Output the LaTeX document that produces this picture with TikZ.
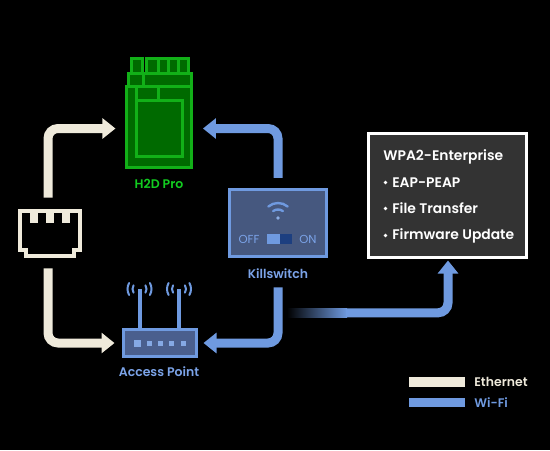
\documentclass[tikz,border=0pt]{standalone}
\usepackage{fontspec}
\setmainfont{Poppins}[BoldFont={Poppins SemiBold}]
\usetikzlibrary{arrows.meta, positioning}
\definecolor{ethcol}{HTML}{EFEADB}
\definecolor{wificol}{HTML}{6F9AE0}
\definecolor{wifitxt}{HTML}{7BA3E8}
\definecolor{modline}{HTML}{12B018}
\definecolor{modfill}{HTML}{006A00}
\definecolor{modtxt}{HTML}{12CC20}
\definecolor{panelcol}{HTML}{46587F}
\definecolor{apcol}{HTML}{4A5F8E}
\definecolor{togglecol}{HTML}{1D3F80}
\definecolor{infocol}{HTML}{333333}
\def\px{0.02cm}
\tikzset{
  ethlink/.style={draw=ethcol, line width=9*\px, rounded corners=10*\px,
    -{Triangle[width=11.3pt, length=7.4pt]}},
  wifilink/.style={draw=wificol, line width=9*\px, rounded corners=10*\px,
    -{Triangle[width=11.3pt, length=7.4pt]}},
  modpart/.style={draw=modline, fill=modfill, line width=3*\px},
  lbl/.style={font=\fontsize{7.1}{8}\selectfont\bfseries, inner sep=0pt},
  infotxt/.style={font=\fontsize{7.9}{9}\selectfont\bfseries, text=white, anchor=west, inner sep=0pt},
  wave/.style={draw=wificol, line width=2*\px, line cap=round},
}
\begin{document}
\begin{tikzpicture}[x=\px, y=-\px]
  \fill[black] (0,0) rectangle (550,450);
  \useasboundingbox (0,0) rectangle (550,450);
  % H2D module
  \draw[modpart] (131.5,58.5) rectangle (142.5,73);
  \draw[modpart] (146.5,58.5) rectangle (188,73);
  \draw[modpart] (158,58.5) -- (158,73) (168,58.5) -- (168,73) (178,58.5) -- (178,73);
  \draw[modpart] (128.5,73) rectangle (191,86);
  \draw[modpart] (143.5,73) -- (143.5,86);
  \node[modpart, minimum width=64.5*\px, minimum height=81*\px, inner sep=0pt] (h2d) at (159.2,127) {};
  \draw[modpart] (136,86) -- (136,100) (158.5,86) -- (158.5,100);
  \draw[modpart] (136,100) rectangle (182.5,156.5);
  \node[lbl, text=modtxt] (h2dlbl) at (159,183.5) {H2D Pro};
  % Killswitch
  \node[draw=wificol, fill=panelcol, line width=3.5*\px, minimum width=97*\px, minimum height=67*\px, inner sep=0pt] (kill) at (278,223) {};
  \fill[wificol!80!white] (278,218) circle (1.8*\px);
  \draw[wave, line width=2.4*\px] (278,218) ++(55:8.5*\px) arc[start angle=55, end angle=125, radius=8.5*\px];
  \draw[wave, line width=2.4*\px] (278,218) ++(50:15*\px) arc[start angle=50, end angle=130, radius=15*\px];
  \fill[togglecol] (279,234) rectangle (292,244);
  \fill[wificol] (267,234) rectangle (280,244);
  \node[font=\fontsize{6.6}{8}\selectfont, text=wifitxt, inner sep=0pt] (offlbl) at (249,239.5) {OFF};
  \node[font=\fontsize{6.6}{8}\selectfont, text=wifitxt, inner sep=0pt] (onlbl) at (308,239.5) {ON};
  \node[lbl, text=wifitxt] (killlbl) at (278,273.5) {Killswitch};
  % Access point
  \foreach \ax in {139.5,179} {
    \draw[wificol, line width=4*\px] (\ax,289) -- (\ax,330);
    \foreach \rad/\half in {7/32,12/30} {
      \draw[wave] (\ax,289) ++(-\half:\rad*\px) arc[start angle=-\half, end angle=\half, radius=\rad*\px];
      \draw[wave] (\ax,289) ++(180-\half:\rad*\px) arc[start angle=180-\half, end angle=180+\half, radius=\rad*\px];
    }
  }
  \node[draw=wificol, fill=apcol, line width=3*\px, minimum width=73*\px, minimum height=27*\px, inner sep=0pt] (ap) at (159.5,343) {};
  \fill[wificol!85!white] (133.5,339.5) rectangle (140.5,346.5);
  \foreach \dx in {149,160,171.5,183} {
    \fill[wificol!85!white] (\dx-2.5,340.5) rectangle (\dx+2.5,345.5);
  }
  \node[lbl, text=wifitxt] (aplbl) at (159,371.5) {Access Point};
  % RJ45 port
  \node[minimum width=64*\px, minimum height=49*\px, inner sep=0pt] (rj45) at (50,233.5) {};
  \draw[ethcol, line width=4*\px, line join=miter]
    (20,211) -- (80,211) -- (80,250) -- (74,250) -- (74,255.5)
    -- (26,255.5) -- (26,250) -- (20,250) -- cycle;
  \foreach \tx in {30,46,62} {
    \fill[ethcol] (\tx,211) rectangle (\tx+8,222.5);
  }
  % Info panel
  \node[draw=white, fill=infocol, line width=3*\px, minimum width=158*\px, minimum height=124*\px, inner sep=0pt] (info) at (447,195) {};
  \node[infotxt] (wpa) at (383,156.5) {WPA2-Enterprise};
  \foreach \ty/\tname/\ttext in {182.5/eap/EAP-PEAP, 208.5/ftrans/File Transfer, 235.5/fware/Firmware Update} {
    \fill[white] (385.5,\ty) circle (1.8*\px);
    \node[infotxt] (\tname) at (392,\ty) {\ttext};
  }
  % Ethernet links
  \draw[ethlink, shorten >=10*\px, shorten <=11*\px] ([xshift=-2*\px]rj45.north) |- ([yshift=\px*-1.5]h2d.west);
  \draw[ethlink, shorten >=7*\px, shorten <=10*\px] ([xshift=-2*\px]rj45.south) |- (ap.west);
  % Wi-Fi links
  \draw[wifilink, shorten >=10*\px, shorten <=10*\px] (kill.north) |- ([yshift=\px*-1.5]h2d.east);
  \draw[wifilink, shorten >=6*\px, shorten <=29*\px] (kill.south) |- (ap.east);
  \shade[left color=black, right color=wificol] (287,308.3) rectangle (347,317.3);
  \coordinate (fadeend) at (346,312.8);
  \draw[wifilink, shorten >=2*\px] (fadeend) -| ([xshift=\px]info.south);
  % Legend
  \fill[ethcol] (409,377) rectangle (465,387);
  \fill[wificol] (409,398) rectangle (465,407);
  \node[lbl, text=ethcol, anchor=west] (ethlbl) at (474,382) {Ethernet};
  \node[lbl, text=wificol, anchor=west] (wifilbl) at (474,402.5) {Wi-Fi};
\end{tikzpicture}
\end{document}
